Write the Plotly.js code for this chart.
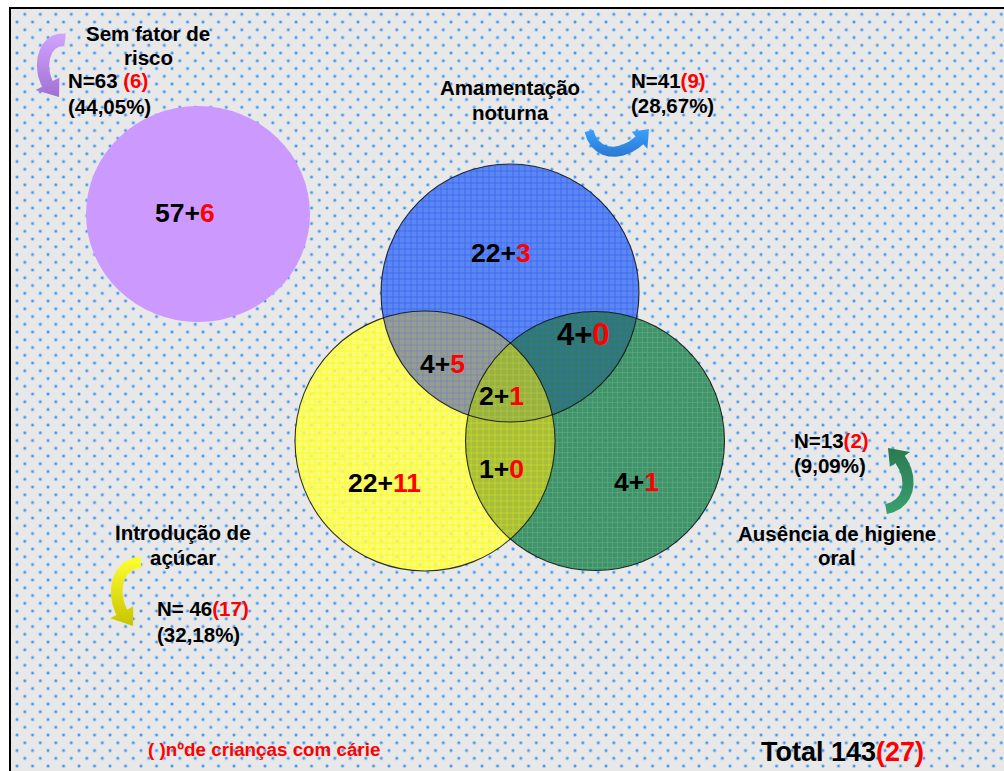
<!DOCTYPE html>
<html><head><meta charset="utf-8">
<script src="https://cdn.plot.ly/plotly-3.0.1.min.js"></script>
<style>
html,body{margin:0;padding:0;background:#fff;width:1004px;height:771px;overflow:hidden}
#frame{position:absolute;left:9px;top:7px;width:1100px;height:900px;border-left:2px solid #000;border-top:2px solid #000;
background-color:#e8e8e8;
background-image:radial-gradient(circle, #3f97f2 0px, #3f97f2 0.9px, rgba(80,160,245,0.45) 1.5px, rgba(232,232,232,0) 2.2px),
radial-gradient(circle, #3f97f2 0px, #3f97f2 0.9px, rgba(80,160,245,0.45) 1.5px, rgba(232,232,232,0) 2.2px);
background-size:15.5px 15.5px, 15.5px 15.5px;
background-position:6.05px 13.05px, 13.8px 5.3px;}
#chart{position:absolute;left:0;top:0;width:1004px;height:771px}
</style></head>
<body><div id="frame"></div><div id="chart"></div>
<script>
// ---------------- DATA ----------------
const setNames   = ['Amamentação|noturna', 'Introdução de|açúcar', 'Ausência de higiene|oral', 'Sem fator de|risco'];
const setN       = [41, 46, 13, 63];
const setCaries  = [9, 17, 2, 6];
const setPct     = ['28,67%', '32,18%', '9,09%', '44,05%'];
// regions: B only, Y only, G only, B∩Y, B∩G, Y∩G, B∩Y∩G, none
const regionNames   = ['Amamentação', 'Açúcar', 'Higiene', 'Amamentação+Açúcar', 'Amamentação+Higiene', 'Açúcar+Higiene', 'Todos', 'Sem fator'];
const regionNoCarie = [22, 22, 4, 4, 4, 1, 2, 57];
const regionCarie   = [3, 11, 1, 5, 0, 0, 1, 6];
const totalN = 143;
const totalCarie = 27;
const legendText = '( )nºde crianças com cárie';

// ---------------- LAYOUT GEOMETRY ----------------
const C = {
  B: {cx: 510, cy: 293, r: 129},
  Y: {cx: 425, cy: 441, r: 130},
  G: {cx: 595, cy: 441, r: 129.5}
};
const purple = {cx: 198, cy: 214, rx: 112, ry: 108};

const RED = '#ff0000';
const FONT = 'Liberation Sans, Arial, Helvetica, sans-serif';

function rayExit(p, d, c) {
  const ox = p[0]-c.cx, oy = p[1]-c.cy;
  const b = ox*d[0]+oy*d[1], cc = ox*ox+oy*oy-c.r*c.r;
  const disc = b*b-cc; if (disc < 0) return Infinity;
  return -b + Math.sqrt(disc);
}
function rayEnter(p, d, c) {
  const ox = p[0]-c.cx, oy = p[1]-c.cy;
  const b = ox*d[0]+oy*d[1], cc = ox*ox+oy*oy-c.r*c.r;
  const disc = b*b-cc; if (disc < 0) return Infinity;
  const t = -b - Math.sqrt(disc);
  return t > 0 ? t : Infinity;
}
function regionPoly(p, ins, outs) {
  const xs = [], ys = [];
  const N = 900;
  for (let i = 0; i <= N; i++) {
    const a = 2*Math.PI*i/N, d = [Math.cos(a), Math.sin(a)];
    let t = Infinity;
    ins.forEach(c => t = Math.min(t, rayExit(p, d, c)));
    outs.forEach(c => t = Math.min(t, rayEnter(p, d, c)));
    xs.push(p[0]+t*d[0]); ys.push(p[1]+t*d[1]);
  }
  return {xs, ys};
}

const regionDefs = [
  {p:[510,215], ins:[C.B], outs:[C.Y,C.G], bg:'rgb(92,134,244)', fg:'rgb(52,100,236)', size:6, sol:0.22, lab:[501,253]},
  {p:[370,470], ins:[C.Y], outs:[C.B,C.G], bg:'rgba(252,252,105,0.86)', fg:'rgb(255,255,0)', size:6, sol:0.22, lab:[384,483]},
  {p:[655,470], ins:[C.G], outs:[C.B,C.Y], bg:'rgba(52,142,98,0.93)', fg:'rgb(100,172,128)', size:5, sol:0.2, lab:[636,482]},
  {p:[440,360], ins:[C.B,C.Y], outs:[C.G], bg:'rgb(150,157,140)', fg:'rgb(112,130,198)', size:6, sol:0.22, lab:[442,364]},
  {p:[580,335], ins:[C.B,C.G], outs:[C.Y], bg:'rgb(46,122,112)', fg:'rgb(58,112,160)', size:6, sol:0.2, lab:[583,334], big:true},
  {p:[510,475], ins:[C.Y,C.G], outs:[C.B], bg:'rgb(166,190,58)', fg:'rgb(208,218,40)', size:6, sol:0.22, lab:[501,469]},
  {p:[510,390], ins:[C.B,C.Y,C.G], outs:[], bg:'rgb(152,178,62)', fg:'rgb(182,198,74)', size:6, sol:0.2, lab:[501,396]}
];

const traces = [];
regionDefs.forEach((r, i) => {
  const poly = regionPoly(r.p, r.ins, r.outs);
  traces.push({
    type:'scatter', mode:'lines', x:poly.xs, y:poly.ys, fill:'toself',
    line:{width:0, color:'rgba(0,0,0,0)'}, hoverinfo:'skip', name: regionNames[i],
    fillcolor: r.bg,
    fillpattern:{shape:'+', bgcolor:r.bg, fgcolor:r.fg, size:r.size, solidity:r.sol, fillmode:'replace'}
  });
});

// curved block arrows (decoration)
function bez(P, t) {
  const u = 1-t;
  return [u*u*u*P[0][0]+3*u*u*t*P[1][0]+3*u*t*t*P[2][0]+t*t*t*P[3][0],
          u*u*u*P[0][1]+3*u*u*t*P[1][1]+3*u*t*t*P[2][1]+t*t*t*P[3][1]];
}
function arrowPoly(P, w0, w1, hl, hw) {
  const N = 200, pts = [], L = [0];
  for (let i = 0; i <= N; i++) pts.push(bez(P, i/N));
  for (let i = 1; i <= N; i++) L.push(L[i-1] + Math.hypot(pts[i][0]-pts[i-1][0], pts[i][1]-pts[i-1][1]));
  const total = L[N];
  let k = 0; while (k < N && L[k] < total-hl) k++;
  const left = [], right = [];
  let nx = 0, ny = 0;
  for (let i = 0; i <= k; i++) {
    const a = pts[Math.max(0,i-1)], b = pts[Math.min(N,i+1)];
    let tx = b[0]-a[0], ty = b[1]-a[1]; const m = Math.hypot(tx,ty); tx/=m; ty/=m;
    nx = -ty; ny = tx;
    const w = w0 + (w1-w0)*(L[i]/L[k]);
    left.push([pts[i][0]+nx*w/2, pts[i][1]+ny*w/2]);
    right.push([pts[i][0]-nx*w/2, pts[i][1]-ny*w/2]);
  }
  const base = pts[k];
  const poly = left.concat([[base[0]+nx*hw/2, base[1]+ny*hw/2], pts[N], [base[0]-nx*hw/2, base[1]-ny*hw/2]]).concat(right.reverse());
  poly.push(poly[0]);
  return {x: poly.map(p=>p[0]), y: poly.map(p=>p[1])};
}
const arrows = [
  {P:[[65,40],[40,37],[34,80],[59,97]], w0:13, w1:12, hl:18, hw:27, c:['#a070d4','#d2a4ff']},
  {P:[[589,131],[596,160],[630,158],[649,129]], w0:9, w1:11, hl:15, hw:23, c:['#2a78d0','#3aa0ff']},
  {P:[[886,509],[915,504],[915,466],[888,448]], w0:10, w1:12, hl:17, hw:25, c:['#3aa070','#2a7a50']},
  {P:[[141,562],[110,565],[110,608],[133,626]], w0:11, w1:12, hl:18, hw:26, c:['#c8c400','#ffff30']}
];
arrows.forEach(a => {
  const poly = arrowPoly(a.P, a.w0, a.w1, a.hl, a.hw);
  traces.push({type:'scatter', mode:'lines', x:poly.x, y:poly.y, fill:'toself',
    line:{width:0, color:'rgba(0,0,0,0)'}, hoverinfo:'skip', fillcolor:a.c[1],
    fillgradient:{type:'vertical', colorscale:[[0,a.c[0]],[1,a.c[1]]]}});
});

// ---------------- SHAPES ----------------
const shapes = [
  {type:'circle', xref:'x', yref:'y', x0:purple.cx-purple.rx, x1:purple.cx+purple.rx, y0:purple.cy-purple.ry, y1:purple.cy+purple.ry,
   fillcolor:'#cc99ff', line:{width:0}, layer:'below'}
];
['B','Y','G'].forEach(k => {
  const c = C[k];
  shapes.push({type:'circle', xref:'x', yref:'y', x0:c.cx-c.r, x1:c.cx+c.r, y0:c.cy-c.r, y1:c.cy+c.r,
    fillcolor:'rgba(0,0,0,0)', line:{color:'rgba(0,0,0,0.8)', width:1.1}, layer:'above'});
});

// ---------------- ANNOTATIONS ----------------
const ann = [];
function A(x, y, text, size, opts) {
  ann.push(Object.assign({x, y, xref:'x', yref:'y', text:'<b>'+text+'</b>', showarrow:false,
    xanchor:'center', yanchor:'middle', font:{family:FONT, size, color:'#000'}, borderpad:0}, opts||{}));
}
const red = s => `<span style="color:${RED}">${s}</span>`;

// region numbers
const regionPos = regionDefs.map(r => r.lab).concat([[185, 213]]);
regionNoCarie.forEach((v, i) => {
  const big = regionDefs[i] && regionDefs[i].big;
  A(regionPos[i][0], regionPos[i][1], `${v}+${red(regionCarie[i])}`, big ? 31 : 26.5);
});

// set names (one annotation per line)
const namePos = [[510, 87, 112], [183, 532, 557], [837, 533, 557], [148, 33, 57]];
setNames.forEach((n, i) => {
  const lines = n.split('|');
  lines.forEach((ln, j) => A(namePos[i][0], namePos[i][1+j], ln, 20.5));
});

// N lines
const nPos = [[630, 80, 105], [156, 608, 634], [793, 440, 465], [67, 80, 106]];
const nSep = ['', ' ', '', ''];
const cSep = ['', '', '', ' '];
setN.forEach((n, i) => {
  A(nPos[i][0], nPos[i][1], `N=${nSep[i]}${n}${cSep[i]}${red('(' + setCaries[i] + ')')}`, 20.5, {xanchor:'left'});
  A(nPos[i][0], nPos[i][2], `(${setPct[i]})`, 20.5, {xanchor:'left'});
});

A(264, 749, `<span style="color:${RED}">${legendText}</span>`, 18.8);
A(842, 752, `Total ${totalN}${red('(' + totalCarie + ')')}`, 27);

const layout = {
  width:1004, height:771, margin:{l:0,r:0,t:0,b:0},
  paper_bgcolor:'rgba(0,0,0,0)', plot_bgcolor:'rgba(0,0,0,0)',
  xaxis:{range:[0,1004], visible:false, fixedrange:true},
  yaxis:{range:[771,0], visible:false, fixedrange:true},
  showlegend:false, shapes, annotations:ann, hovermode:false
};
Plotly.newPlot('chart', traces, layout, {displayModeBar:false, staticPlot:true});
</script>
</body></html>
